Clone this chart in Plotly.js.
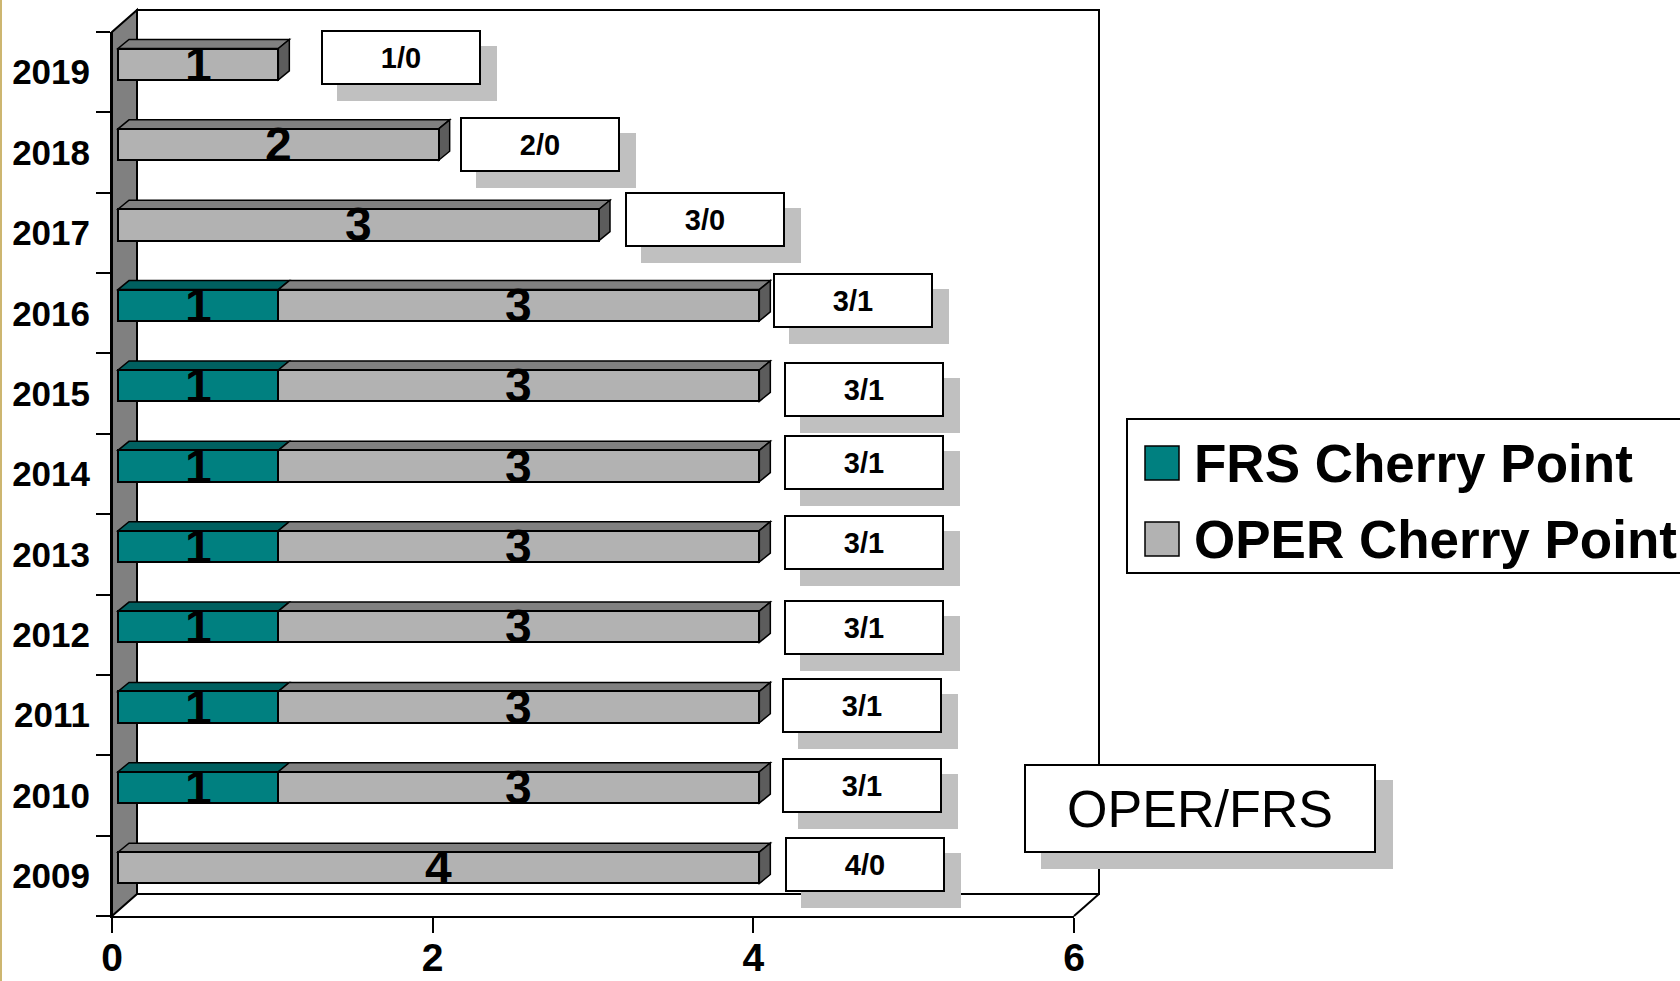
<!DOCTYPE html>
<html><head><meta charset="utf-8">
<script src="https://cdn.plot.ly/plotly-3.0.1.min.js"></script>
<style>html,body{margin:0;padding:0;background:#fff;overflow:hidden}</style>
</head><body><div id="chart" style="width:1680px;height:981px"></div>
<script>
// ---------- data ----------
const years = ['2009','2010','2011','2012','2013','2014','2015','2016','2017','2018','2019'];
const frsValues  = [0,1,1,1,1,1,1,1,0,0,0];
const operValues = [4,3,3,3,3,3,3,3,3,2,1];
const xTickValues = [0,2,4,6];
const seriesNames = ['FRS Cherry Point','OPER Cherry Point'];
const keyTitle = 'OPER/FRS';

// ---------- layout constants (pixels) ----------
const FONT = 'Liberation Sans, Arial, sans-serif';
const W = 1680, H = 981;
const L = 112, R = 1074, T = 32, B = 916;
const PW = R - L, PH = B - T;
const XMAX = 6;
const pxPerUnit = PW / XMAX;
const bandPx = PH / years.length;
const WALL_DX = 25, WALL_DY = 22;
const BAR_SHIFT_X = 6, BAR_SHIFT_Y = 8;
const BAR_DX = 11, BAR_DY = 9;
const BAR_W = 0.39;
const COL_FRS = '#008080', COL_FRS_TOP = '#006060';
const COL_OPER = '#B2B2B2', COL_OPER_TOP = '#808080', COL_OPER_SIDE = '#5C5C5C';
const BOX_GAP = 25;
const boxNudgeX = [1,-2,-2,0,0,0,0,-11,1,-4,18];
const boxNudgeY = [3,2,2,-1,4,4,-4,5,5,0,7];
const SH = 16;

const X = px => (px - L) / PW;
const Y = py => (B - py) / PH;
// bar-axis value / category index -> paper (same mapping as xaxis2 / yaxis2)
const barPX = v => L + BAR_SHIFT_X + v * pxPerUnit;
const barPY = i => B - (i + 0.5) * bandPx - BAR_SHIFT_Y;

// ---------- traces ----------
const traces = [];
traces.push({type:'scatter', x: operValues, y: years, mode:'none', showlegend:false, hoverinfo:'skip'});
traces.push({type:'bar', orientation:'h', name: seriesNames[0], y: years,
  x: frsValues.map(v => v > 0 ? v : null), xaxis:'x2', yaxis:'y2', width: BAR_W,
  marker:{color: COL_FRS, line:{color:'#000', width:2}}, showlegend:false, hoverinfo:'skip'});
traces.push({type:'bar', orientation:'h', name: seriesNames[1], y: years,
  x: operValues, xaxis:'x2', yaxis:'y2', width: BAR_W,
  marker:{color: COL_OPER, line:{color:'#000', width:2}}, showlegend:false, hoverinfo:'skip'});

// ---------- shapes ----------
const shapes = [];
shapes.push({type:'rect', xref:'paper', yref:'paper', x0:X(0), x1:X(2), y0:Y(H), y1:Y(0),
  fillcolor:'#CDB670', line:{width:0}, layer:'below'});
shapes.push({type:'rect', xref:'paper', yref:'paper', x0:X(L+WALL_DX), x1:X(R+WALL_DX),
  y0:Y(B-WALL_DY), y1:Y(T-WALL_DY), fillcolor:'#FFFFFF', line:{color:'#000', width:2}, layer:'below'});
shapes.push({type:'line', xref:'paper', yref:'paper', x0:X(R), y0:Y(B), x1:X(R+WALL_DX), y1:Y(B-WALL_DY),
  line:{color:'#000', width:2}, layer:'below'});
shapes.push({type:'path', xref:'paper', yref:'paper',
  path:`M ${X(L)},${Y(B)} L ${X(L)},${Y(T)} L ${X(L+WALL_DX)},${Y(T-WALL_DY)} L ${X(L+WALL_DX)},${Y(B-WALL_DY)} Z`,
  fillcolor:'#808080', line:{color:'#000', width:2}, layer:'below'});

const dxU = BAR_DX / pxPerUnit, dyU = BAR_DY / bandPx;
years.forEach((yr, i) => {
  const yTop = i + BAR_W / 2, yBot = i - BAR_W / 2;
  const segs = [];
  if (frsValues[i] > 0) segs.push({x0:0, x1:frsValues[i], top:COL_FRS_TOP, side:COL_FRS_TOP});
  if (operValues[i] > 0) segs.push({x0:frsValues[i], x1:frsValues[i] + operValues[i], top:COL_OPER_TOP, side:COL_OPER_SIDE});
  segs.forEach((s, k) => {
    shapes.push({type:'path', xref:'x2', yref:'y2', layer:'below',
      path:`M ${s.x0},${yTop} L ${s.x1},${yTop} L ${s.x1+dxU},${yTop+dyU} L ${s.x0+dxU},${yTop+dyU} Z`,
      fillcolor:s.top, line:{color:'#000', width:1.5}});
    if (k === segs.length - 1) {
      shapes.push({type:'path', xref:'x2', yref:'y2', layer:'below',
        path:`M ${s.x1},${yTop} L ${s.x1+dxU},${yTop+dyU} L ${s.x1+dxU},${yBot+dyU} L ${s.x1},${yBot} Z`,
        fillcolor:s.side, line:{color:'#000', width:1.5}});
    }
  });
});

shapes.push({type:'rect', xref:'paper', yref:'paper', x0:X(1127), x1:X(1720), y0:Y(573), y1:Y(419),
  fillcolor:'#FFFFFF', line:{color:'#000', width:2}, layer:'above'});
const legendRows = [{name: seriesNames[0], color: COL_FRS, cy: 463}, {name: seriesNames[1], color: COL_OPER, cy: 539}];
legendRows.forEach(r => {
  shapes.push({type:'rect', xref:'paper', yref:'paper', x0:X(1145), x1:X(1179), y0:Y(r.cy+17), y1:Y(r.cy-17),
    fillcolor:r.color, line:{color:'#000', width:1.5}, layer:'above'});
});

// ---------- annotations ----------
const annotations = [];
years.forEach((yr, i) => {
  const segs = [];
  if (frsValues[i] > 0) segs.push({c: frsValues[i] / 2, v: frsValues[i]});
  if (operValues[i] > 0) segs.push({c: frsValues[i] + operValues[i] / 2, v: operValues[i]});
  segs.forEach(s => annotations.push({xref:'paper', yref:'paper', x: X(barPX(s.c)), y: Y(barPY(i)),
    xanchor:'center', yanchor:'middle', showarrow:false, text: String(s.v),
    font:{family: FONT, size: 48, color:'#000', weight: 700}}));
});
years.forEach((yr, i) => {
  const total = frsValues[i] + operValues[i];
  annotations.push({xref:'paper', yref:'paper', x: X(barPX(total) + BOX_GAP + boxNudgeX[i] + SH),
    y: Y(barPY(i) - boxNudgeY[i] + SH), xanchor:'left', yanchor:'middle', showarrow:false,
    text:'\u00a0', width:160, height:55, bgcolor:'#C0C0C0', borderwidth:0, borderpad:0});
});
years.forEach((yr, i) => {
  const total = frsValues[i] + operValues[i];
  annotations.push({xref:'paper', yref:'paper', x: X(barPX(total) + BOX_GAP + boxNudgeX[i]),
    y: Y(barPY(i) - boxNudgeY[i]), xanchor:'left', yanchor:'middle', showarrow:false,
    text: `${operValues[i]}/${frsValues[i]}`, width:156, height:51, bgcolor:'#FFFFFF',
    bordercolor:'#000', borderwidth:2, borderpad:0,
    font:{family: FONT, size: 29, color:'#000', weight: 700}});
});
annotations.push({xref:'paper', yref:'paper', x: X(1024+17), y: Y(764+16), xanchor:'left', yanchor:'top',
  showarrow:false, text:'\u00a0', width:352, height:89, bgcolor:'#C0C0C0', borderwidth:0, borderpad:0});
annotations.push({xref:'paper', yref:'paper', x: X(1024), y: Y(764), xanchor:'left', yanchor:'top',
  showarrow:false, text: keyTitle, width:348, height:85, bgcolor:'#FFFFFF', bordercolor:'#000',
  borderwidth:2, borderpad:0, font:{family: FONT, size: 52, color:'#000'}});
legendRows.forEach(r => {
  annotations.push({xref:'paper', yref:'paper', x: X(1192), y: Y(r.cy), xanchor:'left', yanchor:'middle',
    showarrow:false, text: r.name, font:{family: FONT, size: 53, color:'#000', weight: 700}});
});

// ---------- layout ----------
const sx = BAR_SHIFT_X / pxPerUnit, sy = BAR_SHIFT_Y / bandPx;
const layout = {
  width: W, height: H,
  margin: {l: L, r: W - R, t: T, b: H - B, pad: 0},
  paper_bgcolor:'#FFFFFF', plot_bgcolor:'#FFFFFF',
  showlegend:false, barmode:'stack',
  font:{family: FONT, color:'#000'},
  xaxis:{range:[0, XMAX], tickvals: xTickValues, ticktext: xTickValues.map(String),
    ticks:'outside', ticklen:15, tickwidth:2, tickcolor:'#000',
    showline:true, linecolor:'#000', linewidth:2, showgrid:false, zeroline:false,
    ticklabelstandoff: -9, tickfont:{family: FONT, size: 39, color:'#000', weight: 700}, fixedrange:true},
  yaxis:{type:'category', categoryorder:'array', categoryarray: years, range:[-0.5, years.length - 0.5],
    ticks:'outside', ticklen:14, tickwidth:2, tickcolor:'#000', tickson:'boundaries',
    showline:true, linecolor:'#000', linewidth:2, showgrid:false, zeroline:false, ticklabelstandoff: 13,
    tickfont:{family: FONT, size: 35, color:'#000', weight: 700}, fixedrange:true},
  xaxis2:{overlaying:'x', anchor:'y2', range:[-sx, XMAX - sx], visible:false, fixedrange:true},
  yaxis2:{overlaying:'y', anchor:'x2', type:'category', categoryorder:'array', categoryarray: years,
    range:[-0.5 - sy, years.length - 0.5 - sy], visible:false, fixedrange:true},
  shapes: shapes, annotations: annotations
};

Plotly.newPlot('chart', traces, layout, {displayModeBar:false, staticPlot:true});
</script></body></html>
